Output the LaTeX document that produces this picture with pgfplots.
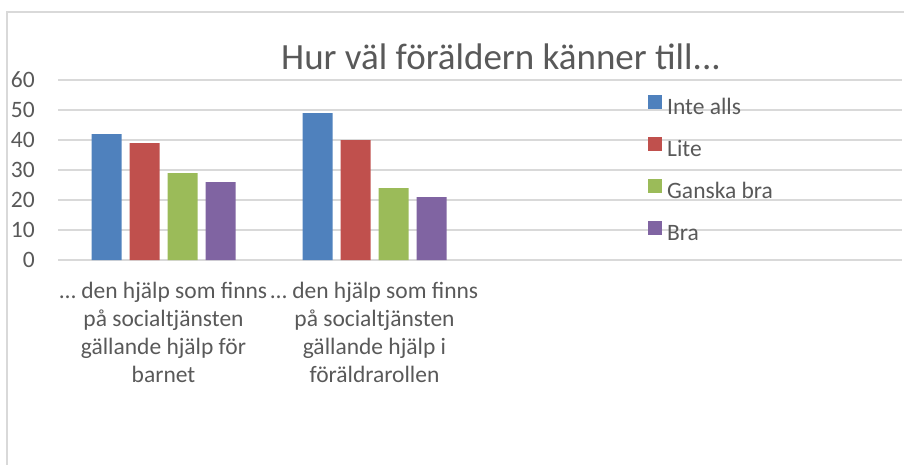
\documentclass[border=0pt]{standalone}
\usepackage{pgfplots}
\pgfplotsset{compat=1.18}
\usepackage{fontspec}
\setmainfont{Carlito}
\definecolor{tc}{HTML}{595959}
\definecolor{gridc}{HTML}{D9D9D9}
\definecolor{c1}{HTML}{4F81BD}
\definecolor{c2}{HTML}{C0504D}
\definecolor{c3}{HTML}{9BBB59}
\definecolor{c4}{HTML}{8064A2}
\begin{document}
\begin{tikzpicture}[x=1pt,y=1pt]
\useasboundingbox (0,0) rectangle (904,464);
\draw[color=gridc, line width=1.2pt] (7,-5) -- (7,452) -- (910,452);
\node[font=\fontsize{37}{44}\selectfont, text=tc, anchor=base, inner sep=0pt] at (501,394) {Hur väl föräldern känner till...};
\begin{axis}[
  at={(58pt,204pt)}, anchor=south west,
  scale only axis, width=844pt, height=180pt,
  xmin=-0.5, xmax=3.5, ymin=0, ymax=60,
  ytick={0,10,...,60},
  xtick={0,1},
  xticklabels={{… den hjälp som finns\\på socialtjänsten\\gällande hjälp för\\barnet},{… den hjälp som finns\\på socialtjänsten\\gällande hjälp i\\föräldrarollen}},
  ybar=8pt, bar width=30pt,
  axis line style={draw=none},
  major tick length=0pt,
  ymajorgrids, grid style={color=gridc, line width=1.2pt},
  /pgf/number format/assume math mode=true,
  tick label style={font=\fontsize{23.5}{28}\selectfont, text=tc},
  yticklabel style={anchor=east, inner sep=0pt, xshift=-23pt},
  xticklabel style={align=center, anchor=north, inner sep=0pt, yshift=-22pt},
  legend style={at={(axis description cs:0.699,0.919)}, anchor=north west, draw=none, fill=none, inner sep=0pt,
    font=\fontsize{23.5}{28}\selectfont, text=tc, row sep=17pt, column sep=0pt,
    nodes={inner sep=0pt, text height=17pt, text depth=5pt}},
  legend cell align=left,
  legend image code/.code={\fill[#1] (0pt,0pt) rectangle (14pt,14pt); \path (19pt,0pt);},
  clip=false,
]
\addplot[fill=c1, draw=none] coordinates {(0,42) (1,49)};
\addplot[fill=c2, draw=none] coordinates {(0,39) (1,40)};
\addplot[fill=c3, draw=none] coordinates {(0,29) (1,24)};
\addplot[fill=c4, draw=none] coordinates {(0,26) (1,21)};
\legend{Inte alls, Lite, Ganska bra, Bra}
\end{axis}
\end{tikzpicture}
\end{document}
